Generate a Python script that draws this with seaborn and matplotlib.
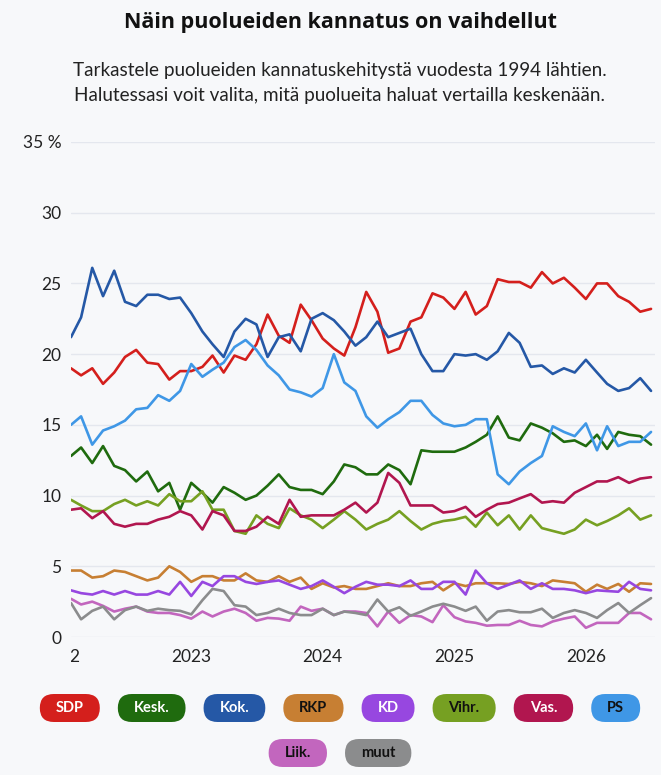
import numpy as np
import pandas as pd
import matplotlib
matplotlib.use("Agg")
import matplotlib.pyplot as plt
import matplotlib.dates as mdates
from matplotlib.patches import FancyBboxPatch
from matplotlib.transforms import IdentityTransform, Bbox, TransformedBbox, offset_copy
import seaborn as sns

# ---------------- data ----------------
parties = ["SDP", "Kesk.", "Kok.", "RKP", "KD", "Vihr.", "Vas.", "PS", "Liik.", "muut"]
colors = ["#d41f1c", "#1f6b0e", "#2558a6", "#c77f33", "#9747e0",
          "#76a022", "#b1164f", "#3f97e6", "#c266be", "#8b8c8d"]
text_colors = ["white", "white", "white", "#111111", "white",
               "#111111", "white", "#111111", "#111111", "#111111"]

months = pd.date_range("2022-02-01", periods=54, freq="MS")

sdp = [19.0, 18.5, 19.0, 17.9, 18.7, 19.8, 20.3, 19.4, 19.3, 18.2, 18.8, 18.8,
       19.1, 19.9, 18.7, 19.9, 19.6, 20.7, 22.8, 21.3, 20.8, 23.5, 22.4, 21.1,
       20.4, 19.9, 21.9, 24.4, 23.0, 20.1, 20.4, 22.3, 22.6, 24.3, 24.0, 23.2,
       24.4, 22.8, 23.4, 25.3, 25.1, 25.1, 24.7, 25.8, 25.0, 25.4, 24.7, 23.9,
       25.0, 25.0, 24.1, 23.7, 23.0, 23.2]
kesk = [12.8, 13.4, 12.3, 13.5, 12.1, 11.8, 11.0, 11.7, 10.3, 10.9, 9.0, 10.9,
        10.2, 9.5, 10.6, 10.2, 9.7, 10.0, 10.7, 11.5, 10.6, 10.4, 10.4, 10.1,
        11.0, 12.2, 12.0, 11.5, 11.5, 12.2, 11.8, 10.8, 13.2, 13.1, 13.1, 13.1,
        13.4, 13.8, 14.3, 15.6, 14.1, 13.9, 15.1, 14.8, 14.4, 13.8, 13.9, 13.5,
        14.3, 13.3, 14.5, 14.3, 14.2, 13.6]
kok = [21.2, 22.6, 26.1, 24.1, 25.9, 23.7, 23.4, 24.2, 24.2, 23.9, 24.0, 22.9,
       21.6, 20.7, 19.8, 21.6, 22.5, 22.1, 19.8, 21.2, 21.4, 20.2, 22.5, 22.9,
       22.4, 21.6, 20.6, 21.2, 22.3, 21.2, 21.5, 21.8, 20.0, 18.8, 18.8, 20.0,
       19.9, 20.0, 19.6, 20.2, 21.5, 20.8, 19.1, 19.2, 18.6, 19.0, 18.7, 19.6,
       18.7, 17.9, 17.4, 17.6, 18.3, 17.4]
rkp = [4.7, 4.7, 4.2, 4.3, 4.7, 4.6, 4.3, 4.0, 4.2, 5.0, 4.6, 3.9,
       4.3, 4.3, 4.0, 4.0, 4.5, 4.0, 3.9, 4.3, 3.9, 4.2, 3.4, 3.8,
       3.5, 3.6, 3.4, 3.4, 3.6, 3.8, 3.6, 3.6, 3.8, 3.9, 3.3, 3.8,
       3.6, 3.8, 3.8, 3.8, 3.75, 3.9, 3.8, 3.6, 4.0, 3.9, 3.8, 3.2,
       3.7, 3.4, 3.75, 3.2, 3.8, 3.75]
kd = [3.3, 3.1, 3.0, 3.25, 3.0, 3.25, 3.0, 3.0, 3.25, 3.0, 3.9, 2.9,
      3.9, 3.6, 4.3, 4.3, 3.9, 3.75, 3.9, 4.0, 3.7, 3.4, 3.6, 4.0,
      3.55, 3.1, 3.55, 3.9, 3.7, 3.7, 3.6, 4.0, 3.4, 3.4, 3.9, 3.9,
      3.0, 4.7, 3.8, 3.4, 3.7, 4.0, 3.4, 3.8, 3.4, 3.4, 3.3, 3.1,
      3.3, 3.25, 3.2, 3.9, 3.4, 3.3]
vihr = [9.7, 9.3, 8.9, 8.9, 9.4, 9.7, 9.3, 9.6, 9.3, 10.1, 9.6, 9.6,
        10.3, 9.0, 9.0, 7.5, 7.3, 8.6, 8.0, 7.7, 9.1, 8.6, 8.3, 7.7,
        8.3, 8.9, 8.3, 7.6, 8.0, 8.3, 8.9, 8.2, 7.6, 8.0, 8.2, 8.3,
        8.5, 7.8, 8.8, 7.9, 8.6, 7.6, 8.6, 7.7, 7.5, 7.3, 7.6, 8.3,
        7.9, 8.2, 8.6, 9.1, 8.3, 8.6]
vas = [9.0, 9.1, 8.4, 8.9, 8.0, 7.8, 8.0, 8.0, 8.3, 8.5, 8.9, 8.6,
       7.6, 8.9, 8.6, 7.5, 7.5, 7.8, 8.5, 8.0, 9.7, 8.5, 8.6, 8.6,
       8.6, 9.0, 9.5, 8.8, 9.5, 11.6, 10.9, 9.3, 9.3, 9.3, 8.8, 8.9,
       9.2, 8.5, 9.0, 9.4, 9.5, 9.8, 10.1, 9.5, 9.6, 9.5, 10.2, 10.6,
       11.0, 11.0, 11.3, 10.9, 11.2, 11.3]
ps = [15.0, 15.6, 13.6, 14.6, 14.9, 15.3, 16.1, 16.2, 17.1, 16.7, 17.4, 19.3,
      18.4, 18.9, 19.4, 20.5, 21.0, 20.3, 19.2, 18.5, 17.5, 17.3, 17.0, 17.6,
      20.0, 18.0, 17.4, 15.6, 14.8, 15.4, 15.9, 16.7, 16.7, 15.7, 15.1, 14.9,
      15.0, 15.4, 15.4, 11.5, 10.8, 11.7, 12.3, 12.8, 14.9, 14.5, 14.2, 15.1,
      13.2, 14.9, 13.5, 13.8, 13.8, 14.5]
liik = [2.7, 2.3, 2.5, 2.2, 1.8, 2.0, 2.15, 1.8, 1.7, 1.7, 1.55, 1.3,
        1.8, 1.45, 1.8, 2.0, 1.7, 1.15, 1.35, 1.3, 1.15, 2.15, 1.85, 2.0,
        1.55, 1.8, 1.8, 1.7, 0.75, 1.8, 1.0, 1.55, 1.45, 1.05, 2.25, 1.4,
        1.1, 1.0, 0.8, 0.85, 0.85, 1.15, 0.85, 0.75, 1.1, 1.3, 1.45, 0.65,
        1.0, 1.0, 1.0, 1.7, 1.7, 1.25]
muut = [2.4, 1.25, 1.85, 2.15, 1.25, 1.9, 2.15, 1.85, 2.0, 1.9, 1.85, 1.6,
        2.6, 3.4, 3.25, 2.25, 2.15, 1.55, 1.7, 2.0, 1.7, 1.55, 1.55, 2.0,
        1.55, 1.8, 1.7, 1.55, 2.65, 1.8, 2.1, 1.5, 1.8, 2.15, 2.35, 2.15,
        1.85, 2.15, 1.15, 1.8, 1.9, 1.75, 1.75, 2.0, 1.35, 1.7, 1.9, 1.7,
        1.35, 1.9, 2.4, 1.7, 2.25, 2.75]

series = [sdp, kesk, kok, rkp, kd, vihr, vas, ps, liik, muut]
y_ticks = [0, 5, 10, 15, 20, 25, 30, 35]
y_labels = ["0", "5", "10", "15", "20", "25", "30", "35 %"]
x_years = [2023, 2024, 2025, 2026]

title = "Näin puolueiden kannatus on vaihdellut"
subtitle1 = "Tarkastele puolueiden kannatuskehitystä vuodesta 1994 lähtien."
subtitle2 = "Halutessasi voit valita, mitä puolueita haluat vertailla keskenään."

df = pd.concat([pd.DataFrame({"date": months, "value": s, "party": p})
                for p, s in zip(parties, series)], ignore_index=True)

# ---------------- style ----------------
BG = "#f7f8fa"
sns.set_theme(style="white")
plt.rcParams["font.family"] = ["Lato", "DejaVu Sans"]

W, H = 661, 775
fig = plt.figure(figsize=(W / 100, H / 100), dpi=100, facecolor=BG)
ax = fig.add_axes([71 / W, 1 - 637 / H, (655 - 71) / W, (637 - 142) / H])
ax.set_facecolor(BG)

sns.lineplot(data=df, x="date", y="value", hue="party", hue_order=parties,
             palette=dict(zip(parties, colors)), linewidth=1.9, legend=False,
             ax=ax, zorder=3)

ax.set_ylim(0, 35)
ax.set_xlim(months[0], months[-1] + pd.Timedelta(days=11))
ax.set_yticks(y_ticks)
ax.set_yticklabels(y_labels)
ax.set_xticks([pd.Timestamp(f"{y}-01-01") for y in x_years])
ax.set_xticklabels([str(y) for y in x_years])
ax.set_xlabel("")
ax.set_ylabel("")
ax.grid(axis="y", color="#e4e7ee", linewidth=1.0, zorder=0)
ax.grid(axis="x", visible=False)
for s in ax.spines.values():
    s.set_visible(False)
ax.tick_params(axis="both", length=0, labelsize=12.5, labelcolor="#222222")
ax.tick_params(axis="y", pad=7)
ax.tick_params(axis="x", pad=9)

# partially clipped 2022 label at the left edge (as in the scrolled chart)
t22 = ax.text(mdates.date2num(pd.Timestamp("2022-01-01")), 0, "2022",
              ha="center", va="top", fontsize=12.5, color="#222222",
              transform=offset_copy(ax.get_xaxis_transform(), fig=fig,
                                    x=0, y=-9, units="points"))
t22.set_clip_box(TransformedBbox(Bbox([[0, -1], [1, 1]]), ax.transAxes))
t22.set_clip_on(True)

# ---------------- titles ----------------
cx = 340 / W
fig.text(cx, 1 - 28 / H, title, ha="center", va="baseline",
         fontsize=15.5, fontweight="bold", color="#111111",
         family=["Open Sans", "DejaVu Sans"])
fig.text(cx, 1 - 76 / H, subtitle1, ha="center", va="baseline",
         fontsize=13.6, color="#222222")
fig.text(cx, 1 - 101 / H, subtitle2, ha="center", va="baseline",
         fontsize=13.6, color="#222222")

# ---------------- legend pills ----------------
fig.canvas.draw()
rend = fig.canvas.get_renderer()
pill_h = 28
pad_x = 16
gap = 18
rows = [list(range(8)), [8, 9]]
row_y = [H - 708, H - 753]
legend_cx = 340
for row, yc in zip(rows, row_y):
    items = []
    for i in row:
        t = fig.text(0, 0, parties[i], fontsize=10.5, fontweight="bold",
                     color=text_colors[i], ha="center", va="center",
                     transform=IdentityTransform(), zorder=5)
        w = t.get_window_extent(rend).width + 2 * pad_x
        items.append((i, t, w))
    total = sum(w for _, _, w in items) + gap * (len(items) - 1)
    x = legend_cx - total / 2
    for i, t, w in items:
        patch = FancyBboxPatch((x, yc - pill_h / 2), w, pill_h,
                               boxstyle=f"round,pad=0,rounding_size={pill_h / 2}",
                               facecolor=colors[i], edgecolor="none",
                               transform=IdentityTransform(), zorder=4)
        fig.add_artist(patch)
        t.set_position((x + w / 2, yc))
        x += w + gap

fig.savefig("out.png", dpi=100, facecolor=BG)
